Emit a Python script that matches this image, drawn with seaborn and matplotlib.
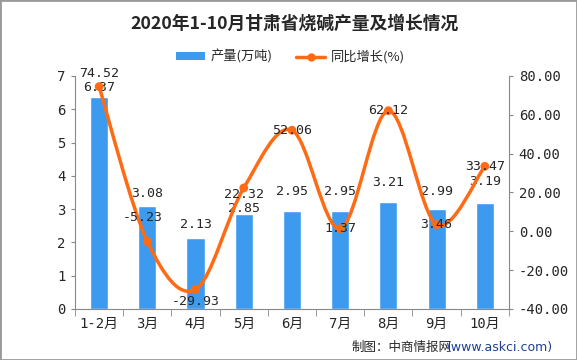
import numpy as np
import matplotlib
matplotlib.use("Agg")
import matplotlib.pyplot as plt
from matplotlib.path import Path
from matplotlib.patches import PathPatch, Rectangle, Patch
from matplotlib.lines import Line2D
import seaborn as sns

months = ['1-2月', '3月', '4月', '5月', '6月', '7月', '8月', '9月', '10月']
output = [6.37, 3.08, 2.13, 2.85, 2.95, 2.95, 3.21, 2.99, 3.19]
yoy = [74.52, -5.23, -29.93, 22.32, 52.06, 1.37, 62.12, 3.46, 33.47]

bar_color = '#3D9BEF'
line_color = '#FF6A14'

sns.set_style('white')
plt.rcParams['font.family'] = ['DejaVu Sans Mono', 'Noto Sans CJK SC']

fig = plt.figure(figsize=(5.77, 3.6), dpi=100)
ax = fig.add_axes([0.130, 0.1417, 0.752, 0.6473])

sns.barplot(x=months, y=output, color=bar_color, width=0.375, saturation=1, ax=ax)
ax.set_xlim(-0.5, len(months) - 0.5)
ax.set_ylim(0, 7)
ax.set_yticks(range(0, 8))
ax.tick_params(axis='y', labelsize=10, length=3, color='#888888', pad=4, left=True)
ax.tick_params(axis='x', labelsize=10, length=0, pad=6)
ax.set_xticks(np.arange(-0.5, len(months), 1), minor=True)
ax.tick_params(axis='x', which='minor', length=5, color='#888888', bottom=True)
for s in ['left', 'bottom']:
    ax.spines[s].set_color('#888888')
for s in ['top', 'right']:
    ax.spines[s].set_visible(False)

bar_off = [7, 9, 10, 4, 14, 14, 14, 13, 15]
for i, v in enumerate(output):
    ax.annotate(f'{v:.2f}', (i, v), xytext=(0, bar_off[i]), textcoords='offset points',
                ha='center', va='center', fontsize=9.5)

ax2 = ax.twinx()
ax2.set_ylim(-40, 80)
ax2.set_yticks(range(-40, 81, 20))
ax2.set_yticklabels([f'{t:.2f}' for t in range(-40, 81, 20)])
ax2.tick_params(axis='y', labelsize=10, length=3, color='#888888', pad=4, right=True)
for s in ['left', 'bottom', 'top']:
    ax2.spines[s].set_visible(False)
ax2.spines['right'].set_color('#888888')

# smooth curve through the points (Catmull-Rom as cubic Bezier)
xs = np.arange(len(yoy), dtype=float)
ys = np.array(yoy, dtype=float)
verts = [(xs[0], ys[0])]
codes = [Path.MOVETO]
n = len(xs)
for i in range(n - 1):
    p0 = np.array([xs[max(i - 1, 0)], ys[max(i - 1, 0)]])
    p1 = np.array([xs[i], ys[i]])
    p2 = np.array([xs[i + 1], ys[i + 1]])
    p3 = np.array([xs[min(i + 2, n - 1)], ys[min(i + 2, n - 1)]])
    c1 = p1 + (p2 - p0) / 6
    c2 = p2 - (p3 - p1) / 6
    verts += [tuple(c1), tuple(c2), tuple(p2)]
    codes += [Path.CURVE4] * 3
ax2.add_patch(PathPatch(Path(verts, codes), fill=False, edgecolor=line_color, lw=2.5, zorder=3))
sns.scatterplot(x=xs, y=ys, color=line_color, s=40, edgecolor='none', zorder=4, ax=ax2)

line_off = [(0, 9.5), (-3, 17), (0, -9), (0, -5), (0, 0), (0, 0), (0, 0), (0, 0), (0, 0)]
for i, v in enumerate(yoy):
    ax2.annotate(f'{v:.2f}', (i, v), xytext=line_off[i], textcoords='offset points',
                 ha='center', va='center', fontsize=9.5, zorder=5)

fig.text(0.51, 0.935, '2020年1-10月甘肃省烧碱产量及增长情况', ha='center', va='center',
         fontsize=12.8, fontweight='bold', family=['Noto Sans CJK SC'])

handles = [Patch(facecolor=bar_color, edgecolor='none'),
           Line2D([0], [0], color=line_color, lw=2.5, marker='o', markersize=5)]
fig.legend(handles, ['产量(万吨)', '同比增长(%)'], loc='center', bbox_to_anchor=(0.503, 0.842),
           ncol=2, frameon=False, handlelength=2.2, handleheight=0.55,
           columnspacing=1.8, handletextpad=0.4, prop={'family': ['Noto Sans CJK SC'], 'size': 9.5})

fig.text(0.61, 0.035, '制图：中商情报网', ha='left', va='center', fontsize=9,
         family=['Noto Sans CJK SC'])
fig.text(0.775, 0.035, '(www.askci.com)', ha='left', va='center', fontsize=9,
         color='#1F3F8F', family=['DejaVu Sans'])

fig.add_artist(Rectangle((0, 0), 1, 1, transform=fig.transFigure, fill=False,
                         edgecolor='#999999', lw=2))

fig.savefig('out.png', dpi=100)
